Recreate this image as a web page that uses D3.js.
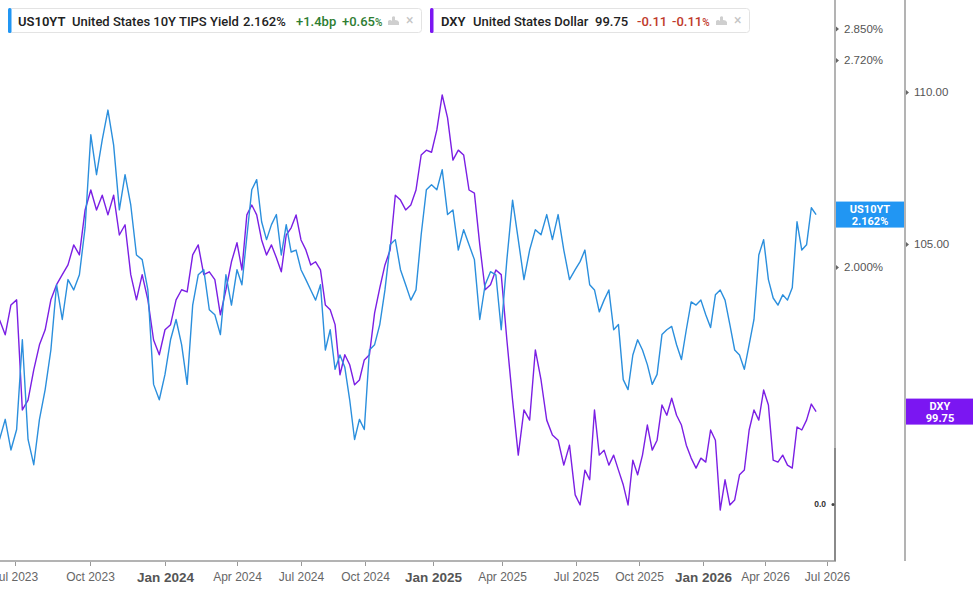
<!doctype html>
<html>
<head>
<meta charset="utf-8">
<script src="https://d3js.org/d3.v7.min.js"></script>
<style>
  body { margin: 0; background: #fff; }
  svg { display: block; font-family: Roboto, "Liberation Sans", Arial, sans-serif; }
</style>
</head>
<body>
<svg width="973" height="590" id="chart"></svg>
<script>
// weekly closes, first week starts 2023-06-12
var firstWeek = "2023-06-12";

var dxyValues = [
  102.59, 102.12, 103.06, 103.22, 99.80, 100.10, 101.03, 101.81, 102.28, 103.22,
  103.70, 104.02, 104.33, 104.97, 104.65, 106.10, 106.75, 106.10, 106.58, 105.94,
  106.58, 105.29, 105.62, 104.02, 103.22, 104.02, 103.22, 101.96, 101.50, 102.28,
  102.44, 103.22, 103.54, 103.47, 104.65, 104.97, 104.02, 104.11, 103.86, 102.75,
  103.54, 104.43, 105.04, 104.17, 105.94, 106.26, 105.94, 105.13, 104.65, 104.97,
  104.56, 104.11, 105.29, 105.52, 105.94, 105.13, 104.81, 104.33, 104.43, 104.17,
  103.06, 102.91, 102.44, 100.88, 101.50, 101.19, 100.57, 100.72, 101.34, 101.50,
  102.81, 103.60, 104.33, 104.81, 106.58, 106.42, 106.10, 106.26, 106.75, 107.90,
  108.06, 107.99, 108.73, 109.90, 109.13, 107.73, 108.06, 107.90, 106.75, 106.65,
  104.97, 103.54, 103.70, 104.17, 104.02, 101.96, 100.10, 98.43, 99.80, 99.49,
  101.65, 100.72, 99.49, 99.04, 98.88, 98.13, 98.73, 97.24, 96.94, 97.98,
  97.69, 99.80, 98.43, 98.58, 98.13, 98.43, 97.98, 97.54, 96.94, 98.28,
  97.84, 98.43, 99.34, 98.58, 98.88, 99.95, 99.64, 100.16, 99.64, 99.34,
  98.73, 98.34, 98.04, 98.34, 98.22, 99.19, 98.88, 96.79, 97.69, 96.94,
  97.09, 97.84, 97.98, 99.19, 99.80, 99.49, 100.41, 99.95, 98.28, 98.22,
  98.43, 98.13, 98.04, 99.28, 99.19, 99.49, 99.98, 99.75
];

var tipsValues = [
  1.548, 1.595, 1.524, 1.571, 1.795, 1.548, 1.491, 1.595, 1.667, 1.768,
  1.948, 1.850, 1.963, 1.933, 1.977, 2.121, 2.434, 2.294, 2.416, 2.525,
  2.397, 2.177, 2.294, 2.193, 2.036, 2.022, 1.933, 1.680, 1.642, 1.705,
  1.795, 1.850, 1.782, 1.680, 1.890, 1.977, 1.992, 1.877, 1.863, 1.809,
  1.977, 1.890, 1.992, 1.948, 2.092, 2.243, 2.277, 2.139, 2.083, 2.130,
  2.162, 2.036, 2.130, 2.045, 2.051, 1.992, 1.963, 1.933, 1.904, 1.948,
  1.768, 1.822, 1.718, 1.755, 1.723, 1.642, 1.548, 1.595, 1.571, 1.768,
  1.782, 1.836, 1.933, 2.067, 2.083, 1.992, 1.948, 1.904, 1.933, 2.098,
  2.243, 2.260, 2.243, 2.311, 2.162, 2.177, 2.051, 2.114, 2.067, 2.022,
  1.850, 1.948, 1.986, 1.977, 1.822, 2.022, 2.209, 2.083, 1.963, 2.051,
  2.114, 2.098, 2.162, 2.083, 2.162, 2.051, 1.963, 1.992, 2.016, 2.051,
  1.948, 1.933, 1.871, 1.904, 1.933, 1.822, 1.836, 1.692, 1.667, 1.755,
  1.795, 1.768, 1.730, 1.680, 1.705, 1.809, 1.822, 1.831, 1.782, 1.743,
  1.822, 1.899, 1.890, 1.904, 1.863, 1.828, 1.919, 1.933, 1.904, 1.836,
  1.768, 1.755, 1.718, 1.782, 1.850, 2.036, 2.083, 1.963, 1.910, 1.890,
  1.919, 1.904, 1.939, 2.139, 2.051, 2.067, 2.184, 2.162
];

var xTickLabels = ["Jul 2023", "Oct 2023", "Jan 2024", "Apr 2024", "Jul 2024", "Oct 2024",
  "Jan 2025", "Apr 2025", "Jul 2025", "Oct 2025", "Jan 2026", "Apr 2026", "Jul 2026"];
var tipsTicks = [2.0, 2.72, 2.85];
var dxyTicks = [100, 105, 110];

var svg = d3.select("svg");
var plotRight = 835, axis2 = 905, axisY = 561;

// time axis is not evenly spaced on the source chart, so map each tick date to its spot
var parseTick = d3.timeParse("%b %Y");
var tickDates = xTickLabels.map(parseTick);
var tickPx = [15, 90, 165, 237, 301, 365, 433, 502, 576, 639, 703, 765, 827];
var x = d3.scaleTime().domain(tickDates).range(tickPx);

var yTips = d3.scaleLog().domain([2.0, 2.72]).range([267, 60]);
var yDxy = d3.scaleLog().domain([105, 110]).range([244, 92]);

var start = d3.timeParse("%Y-%m-%d")(firstWeek);
var dates = dxyValues.map(function (d, i) { return d3.timeDay.offset(start, 7 * i); });

svg.append("clipPath").attr("id", "plot")
  .append("rect").attr("x", 0).attr("y", 0).attr("width", plotRight).attr("height", axisY);

var dxyLine = d3.line()
  .x(function (d, i) { return x(dates[i]); })
  .y(function (d) { return yDxy(d); });
var tipsLine = d3.line()
  .x(function (d, i) { return x(dates[i]); })
  .y(function (d) { return yTips(d); });

var lines = svg.append("g").attr("clip-path", "url(#plot)");
lines.append("path").datum(dxyValues)
  .attr("d", dxyLine)
  .attr("fill", "none").attr("stroke", "#7b1fe4").attr("stroke-width", 1.4)
  .attr("stroke-linejoin", "round");
lines.append("path").datum(tipsValues)
  .attr("d", tipsLine)
  .attr("fill", "none").attr("stroke", "#2b8fdd").attr("stroke-width", 1.4)
  .attr("stroke-linejoin", "round");

// bottom axis
var xAxis = svg.append("g")
  .attr("transform", "translate(0," + axisY + ")")
  .call(d3.axisBottom(x).tickValues(tickDates).tickSize(5).tickPadding(6)
    .tickFormat(function (d, i) { return xTickLabels[i]; }));
xAxis.select(".domain").remove();
xAxis.selectAll(".tick line").attr("stroke", "#999");
xAxis.selectAll(".tick text")
  .attr("fill", "#666")
  .style("font-size", "12px")
  .filter(function (d) { return d.getMonth() === 0; })
  .attr("fill", "#555")
  .style("font-size", "13.5px")
  .style("font-weight", "bold");

svg.append("line").attr("x1", 0).attr("x2", plotRight + 1).attr("y1", axisY).attr("y2", axisY)
  .attr("stroke", "#b3b3b3").attr("stroke-width", 2);
svg.append("line").attr("x1", plotRight).attr("x2", plotRight).attr("y1", 0).attr("y2", axisY)
  .attr("stroke", "#b3b3b3").attr("stroke-width", 2);
svg.append("line").attr("x1", plotRight).attr("x2", plotRight).attr("y1", 448).attr("y2", axisY)
  .attr("stroke", "#8a8a8a").attr("stroke-width", 2);
svg.append("line").attr("x1", axis2).attr("x2", axis2).attr("y1", 0).attr("y2", axisY)
  .attr("stroke", "#b3b3b3").attr("stroke-width", 2);

// price scales
function priceAxis(scale, ticks, fmt, x0) {
  var g = svg.append("g").attr("transform", "translate(" + x0 + ",0)")
    .call(d3.axisRight(scale).tickValues(ticks).tickSize(0).tickPadding(9).tickFormat(fmt));
  g.select(".domain").remove();
  g.selectAll(".tick text").attr("fill", "#555").style("font-size", "11.5px");
  g.selectAll(".tick").append("path").attr("d", "M1,-2.5L4,0L1,2.5Z").attr("fill", "#666");
  return g;
}
priceAxis(yTips, tipsTicks, function (d) { return d.toFixed(3) + "%"; }, plotRight);
priceAxis(yDxy, dxyTicks, function (d) { return d.toFixed(2); }, axis2);

// small indicator scale
var yVol = d3.scaleLinear().domain([0, 1]).range([504, 448]);
var volAxis = svg.append("g").attr("transform", "translate(" + (plotRight - 1) + ",0)")
  .call(d3.axisLeft(yVol).tickValues([0]).tickSize(0).tickPadding(8).tickFormat(d3.format(".1f")));
volAxis.select(".domain").remove();
volAxis.selectAll(".tick text").attr("fill", "#333").style("font-size", "8.5px").style("font-weight", "bold");
volAxis.selectAll(".tick").append("circle").attr("cx", -1).attr("r", 1.5).attr("fill", "#444");

// last value badges
function badge(x0, w, yc, color, name, value) {
  var g = svg.append("g");
  g.append("rect").attr("x", x0).attr("y", yc - 13).attr("width", w).attr("height", 26).attr("fill", color);
  g.append("text").attr("x", x0 + w / 2).attr("y", yc - 2).attr("text-anchor", "middle")
    .attr("fill", "#fff").style("font-size", "11px").style("font-weight", "bold").text(name);
  g.append("text").attr("x", x0 + w / 2).attr("y", yc + 10).attr("text-anchor", "middle")
    .attr("fill", "#fff").style("font-size", "11px").style("font-weight", "bold").text(value);
}
var lastTips = tipsValues[tipsValues.length - 1];
var lastDxy = dxyValues[dxyValues.length - 1];
badge(plotRight + 1, axis2 - plotRight - 2, yTips(lastTips), "#2196f3", "US10YT", lastTips.toFixed(3) + "%");
badge(axis2 + 1, 973 - axis2, yDxy(lastDxy), "#7b16f2", "DXY", lastDxy.toFixed(2));

// legends
function legend(x0, w, color, parts) {
  var g = svg.append("g");
  g.append("rect").attr("x", x0 + 0.5).attr("y", 8.5).attr("width", w).attr("height", 24)
    .attr("rx", 3).attr("fill", "#fff").attr("stroke", "#e3e3e3");
  g.append("rect").attr("x", x0).attr("y", 8).attr("width", 3.5).attr("height", 25).attr("rx", 1.5).attr("fill", color);
  parts.forEach(function (p) {
    var t = g.append("text").attr("x", x0 + p.dx).attr("y", 25.5)
      .attr("fill", p.color || "#222").style("font-size", "13px").style("font-weight", p.weight || 500);
    t.append("tspan").text(p.text);
    if (p.suffix) t.append("tspan").style("font-size", "10px").text(p.suffix);
  });
  var ix = x0 + w - 33;
  g.append("path")
    .attr("d", "M" + ix + ",25 l0,-4 q2,-2 4,0 l0,-4 q2,-1.5 3,0 l0,3 q3,0 4,2 l0,3 z")
    .attr("fill", "#cfcfcf");
  g.append("text").attr("x", x0 + w - 15).attr("y", 25).attr("fill", "#c4c4c4")
    .style("font-size", "14px").text("×");
}
legend(8, 413, "#2196f3", [
  { dx: 10, text: "US10YT", weight: 600 },
  { dx: 64, text: "United States 10Y TIPS Yield" },
  { dx: 235, text: "2.162%" },
  { dx: 288, text: "+1.4bp", color: "#2e7d32" },
  { dx: 334, text: "+0.65", suffix: "%", color: "#2e7d32" }
]);
legend(430, 319, "#7b16f2", [
  { dx: 11, text: "DXY", weight: 600 },
  { dx: 43, text: "United States Dollar" },
  { dx: 165, text: "99.75" },
  { dx: 207, text: "-0.11", color: "#c0392b" },
  { dx: 242, text: "-0.11", suffix: "%", color: "#c0392b" }
]);
</script>
</body>
</html>
